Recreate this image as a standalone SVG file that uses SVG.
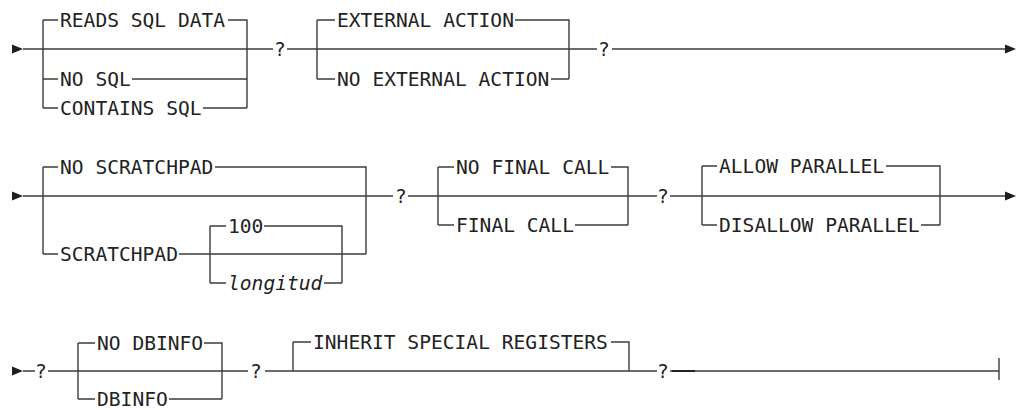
<svg xmlns="http://www.w3.org/2000/svg" width="1016" height="410" viewBox="0 0 1016 410">
<style>
text{font-family:"DejaVu Sans Mono","Liberation Mono",monospace;font-size:19.6px;fill:#222}
.q{text-anchor:middle}
.it{font-style:italic}
#connectors path{fill:none;stroke:#3c3c3c;stroke-width:1.4}
.ah{fill:#1e1e1e}
</style>
<rect width="1016" height="410" fill="#fff"/>
<g id="connectors">
<!-- Row 1 -->
<polygon class="ah" points="12,44.5 23,49 12,53.5"/>
<path d="M23 49H273M287 49H597M612 49H1006"/>
<path d="M43 20V108M43 20H58M228 20H247V108M43 79H58M132 79H247M43 108H58M203 108H247"/>
<path d="M317 20V79M317 20H335M515 20H569V79M317 79H335M551 79H569"/>
<polygon class="ah" points="1005,44.5 1016,49 1005,53.5"/>
<!-- Row 2 -->
<polygon class="ah" points="12,191.5 23,196 12,200.5"/>
<path d="M23 196H393M408 196H657M670 196H1006"/>
<path d="M43 167V254M43 167H58M215 167H366V254M43 254H58M179 254H366"/>
<path d="M210 226V283M210 226H226M264 226H342V283M210 283H226M324 283H342"/>
<path d="M438 167V225M438 167H454M611 167H628V225M438 225H454M575 225H628"/>
<path d="M702 166V225M702 166H717M886 166H940V225M702 225H717M921 225H940"/>
<polygon class="ah" points="1005,191.5 1016,196 1005,200.5"/>
<!-- Row 3 -->
<polygon class="ah" points="12,366.5 23,371 12,375.5"/>
<path d="M23 371H35M48 371H248M265 371H657M670 371H999M999 358V380"/>
<path d="M78 343V399M78 343H95M204 343H222V399M78 399H95M169 399H222"/>
<path d="M293 342V371M293 342H311M611 342H629V371"/>
<path d="M672 371H695" style="stroke-width:2;stroke:#222"/>
</g>
<g id="n-sql">
<text x="60" y="27">READS SQL DATA</text>
<text x="60" y="86">NO SQL</text>
<text x="60" y="115">CONTAINS SQL</text>
</g>
<g id="q1"><text class="q" x="280" y="56">?</text></g>
<g id="n-external">
<text x="337" y="27">EXTERNAL ACTION</text>
<text x="337" y="86">NO EXTERNAL ACTION</text>
</g>
<g id="q2"><text class="q" x="604" y="56">?</text></g>
<g id="n-scratchpad">
<text x="60" y="174">NO SCRATCHPAD</text>
<text x="60" y="261">SCRATCHPAD</text>
</g>
<g id="n-length">
<text x="228" y="233">100</text>
<text class="it" x="228" y="290">longitud</text>
</g>
<g id="q3"><text class="q" x="401" y="203">?</text></g>
<g id="n-finalcall">
<text x="456" y="174">NO FINAL CALL</text>
<text x="456" y="232">FINAL CALL</text>
</g>
<g id="q4"><text class="q" x="663" y="203">?</text></g>
<g id="n-parallel">
<text x="719" y="173">ALLOW PARALLEL</text>
<text x="719" y="232">DISALLOW PARALLEL</text>
</g>
<g id="q5"><text class="q" x="41" y="378">?</text></g>
<g id="n-dbinfo">
<text x="97" y="350">NO DBINFO</text>
<text x="97" y="406">DBINFO</text>
</g>
<g id="q6"><text class="q" x="256" y="378">?</text></g>
<g id="n-inherit">
<text x="313" y="349">INHERIT SPECIAL REGISTERS</text>
</g>
<g id="q7"><text class="q" x="663" y="378">?</text></g>
</svg>
